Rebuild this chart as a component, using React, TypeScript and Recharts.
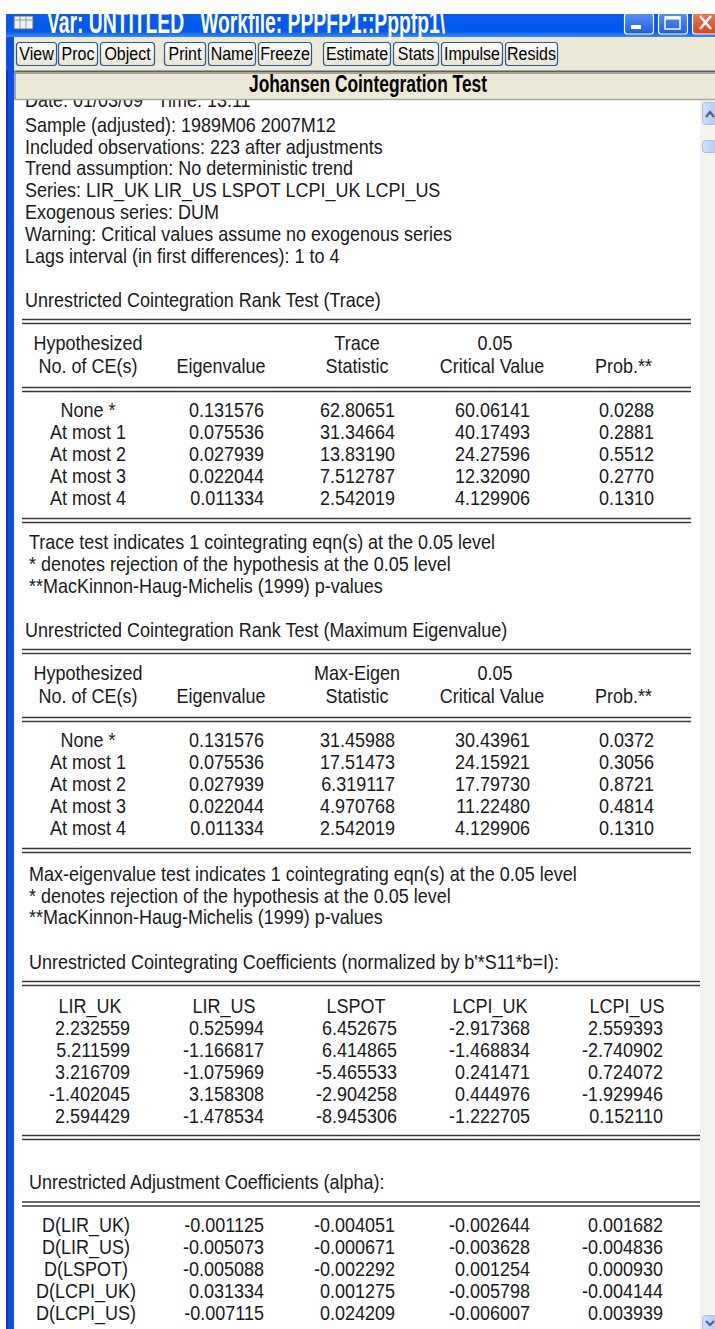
import React from "react";
import { Surface, Layer } from "recharts";

const W = 715;
const H = 1329;
const FONT = "'Liberation Sans', Arial, Helvetica, sans-serif";
const SY = 1.15;

// ---------------- data ----------------
const windowTitle = "Var: UNTITLED   Workfile: PPPFP1::Pppfp1\\";
const toolbarLabels = ["View", "Proc", "Object", "Print", "Name", "Freeze", "Estimate", "Stats", "Impulse", "Resids"];
const panelTitle = "Johansen Cointegration Test";
const infoLines = [
  "Date: 01/03/09   Time: 13:11",
  "Sample (adjusted): 1989M06 2007M12",
  "Included observations: 223 after adjustments",
  "Trend assumption: No deterministic trend",
  "Series: LIR_UK LIR_US LSPOT LCPI_UK LCPI_US",
  "Exogenous series: DUM",
  "Warning: Critical values assume no exogenous series",
  "Lags interval (in first differences): 1 to 4",
];
const traceTitle = "Unrestricted Cointegration Rank Test (Trace)";
const traceHeader1 = ["Hypothesized", "", "Trace", "0.05", ""];
const traceHeader2 = ["No. of CE(s)", "Eigenvalue", "Statistic", "Critical Value", "Prob.**"];
const rankLabels = ["None *", "At most 1", "At most 2", "At most 3", "At most 4"];
const eigenvalues = [0.131576, 0.075536, 0.027939, 0.022044, 0.011334];
const traceStat = [62.80651, 31.34664, 13.8319, 7.512787, 2.542019];
const traceCrit = [60.06141, 40.17493, 24.27596, 12.3209, 4.129906];
const traceProb = [0.0288, 0.2881, 0.5512, 0.277, 0.131];
const traceNotes = [
  "Trace test indicates 1 cointegrating eqn(s) at the 0.05 level",
  "* denotes rejection of the hypothesis at the 0.05 level",
  "**MacKinnon-Haug-Michelis (1999) p-values",
];
const maxTitle = "Unrestricted Cointegration Rank Test (Maximum Eigenvalue)";
const maxHeader1 = ["Hypothesized", "", "Max-Eigen", "0.05", ""];
const maxHeader2 = ["No. of CE(s)", "Eigenvalue", "Statistic", "Critical Value", "Prob.**"];
const maxStat = [31.45988, 17.51473, 6.319117, 4.970768, 2.542019];
const maxCrit = [30.43961, 24.15921, 17.7973, 11.2248, 4.129906];
const maxProb = [0.0372, 0.3056, 0.8721, 0.4814, 0.131];
const maxNotes = [
  "Max-eigenvalue test indicates 1 cointegrating eqn(s) at the 0.05 level",
  "* denotes rejection of the hypothesis at the 0.05 level",
  "**MacKinnon-Haug-Michelis (1999) p-values",
];
const betaTitle = "Unrestricted Cointegrating Coefficients (normalized by b'*S11*b=I):";
const seriesNames = ["LIR_UK", "LIR_US", "LSPOT", "LCPI_UK", "LCPI_US"];
const betaLirUk = [2.232559, 5.211599, 3.216709, -1.402045, 2.594429];
const betaLirUs = [0.525994, -1.166817, -1.075969, 3.158308, -1.478534];
const betaLspot = [6.452675, 6.414865, -5.465533, -2.904258, -8.945306];
const betaLcpiUk = [-2.917368, -1.468834, 0.241471, 0.444976, -1.222705];
const betaLcpiUs = [2.559393, -2.740902, 0.724072, -1.929946, 0.15211];
const alphaTitle = "Unrestricted Adjustment Coefficients (alpha):";
const alphaLabels = ["D(LIR_UK)", "D(LIR_US)", "D(LSPOT)", "D(LCPI_UK)", "D(LCPI_US)"];
const alpha1 = [-0.001125, -0.005073, -0.005088, 0.031334, -0.007115];
const alpha2 = [-0.004051, -0.000671, -0.002292, 0.001275, 0.024209];
const alpha3 = [-0.002644, -0.003628, 0.001254, -0.005798, -0.006007];
const alpha4 = [0.001682, -0.004836, 0.00093, -0.004144, 0.003939];

// ---------------- layout ----------------
const toolbarX: [number, number][] = [
  [16, 57], [58, 98], [100, 155], [164, 206], [208, 256], [258, 312],
  [323, 391], [393, 439], [441, 503], [505, 558],
];
const rankColCenter = 88;
const rankHeadCenters = [88, 221, 357, 492, 0];
const rankValRight = [264, 395, 530, 654];
const betaHeadCenters = [90, 224, 356, 490, 627];
const betaValRight = [130, 264, 397, 530, 663];
const alphaLabelCenter = 86;
const alphaValRight = [264, 395, 530, 663];

const fmt = (v: number) => (Math.abs(v) >= 10 ? v.toFixed(5) : v.toFixed(6));
const fmtP = (v: number) => v.toFixed(4);

type TP = {
  x: number;
  y: number;
  children: React.ReactNode;
  anchor?: "start" | "middle" | "end";
  size?: number;
  weight?: string;
  fill?: string;
  sy?: number;
  len?: number;
};
const T = ({ x, y, children, anchor = "start", size = 18, weight = "normal", fill = "#1a1a1a", sy = SY, len }: TP) => (
  <text
    transform={`translate(${x},${y}) scale(1,${sy})`}
    textAnchor={anchor}
    fontSize={size}
    fontFamily={FONT}
    fontWeight={weight}
    fill={fill}
    xmlSpace="preserve"
    style={{ whiteSpace: "pre" }}
    textLength={len}
    lengthAdjust={len ? "spacingAndGlyphs" : undefined}
  >
    {children}
  </text>
);

const DL = ({ x1, x2, y }: { x1: number; x2: number; y: number }) => (
  <Layer>
    <line x1={x1} x2={x2} y1={y} y2={y} stroke="#3a3a3a" strokeWidth={1.6} />
    <line x1={x1} x2={x2} y1={y + 4} y2={y + 4} stroke="#3a3a3a" strokeWidth={1.6} />
  </Layer>
);

const RankTable = ({
  top, h1, h2, stat, crit, prob, right,
}: {
  top: number; h1: string[]; h2: string[]; stat: number[]; crit: number[]; prob: number[]; right: number;
}) => {
  const rowY = (i: number) => top + 97.5 + i * 21.9;
  return (
    <Layer>
      <DL x1={22} x2={right} y={top} />
      {h1.map((s, i) =>
        s ? (
          <T key={"a" + i} x={i === 3 ? 495 : rankHeadCenters[i]} y={top + 30.5} anchor="middle">
            {s}
          </T>
        ) : null
      )}
      {h2.map((s, i) => (
        <T key={"b" + i} x={i === 4 ? 652 : rankHeadCenters[i]} y={top + 53.5} anchor={i === 4 ? "end" : "middle"}>
          {s}
        </T>
      ))}
      <DL x1={22} x2={right} y={top + 68} />
      {rankLabels.map((s, i) => (
        <Layer key={"r" + i}>
          <T x={rankColCenter} y={rowY(i)} anchor="middle">{s}</T>
          <T x={rankValRight[0]} y={rowY(i)} anchor="end">{fmt(eigenvalues[i])}</T>
          <T x={rankValRight[1]} y={rowY(i)} anchor="end">{fmt(stat[i])}</T>
          <T x={rankValRight[2]} y={rowY(i)} anchor="end">{fmt(crit[i])}</T>
          <T x={rankValRight[3]} y={rowY(i)} anchor="end">{fmtP(prob[i])}</T>
        </Layer>
      ))}
      <DL x1={22} x2={right} y={top + 199} />
    </Layer>
  );
};

export default function App() {
  const betaCols = [betaLirUk, betaLirUs, betaLspot, betaLcpiUk, betaLcpiUs];
  const alphaCols = [alpha1, alpha2, alpha3, alpha4];
  return (
    <div style={{ position: "absolute", left: 0, top: 0, width: W, height: H, background: "#fff" }}>
      <Surface width={W} height={H} viewBox={{ x: 0, y: 0, width: W, height: H }}>
        <defs>
          <linearGradient id="tb" x1="0" y1="0" x2="0" y2="1">
            <stop offset="0" stopColor="#0A5CEE" />
            <stop offset="0.75" stopColor="#0058EE" />
            <stop offset="1" stopColor="#3A8CF8" />
          </linearGradient>
          <linearGradient id="btn" x1="0" y1="0" x2="0" y2="1">
            <stop offset="0" stopColor="#FFFFFF" />
            <stop offset="1" stopColor="#E6E3D6" />
          </linearGradient>
          <linearGradient id="wbtn" x1="0" y1="0" x2="0" y2="1">
            <stop offset="0" stopColor="#5A93F8" />
            <stop offset="1" stopColor="#1F5DE0" />
          </linearGradient>
          <linearGradient id="cbtn" x1="0" y1="0" x2="0" y2="1">
            <stop offset="0" stopColor="#EE7A50" />
            <stop offset="1" stopColor="#D8421E" />
          </linearGradient>
          <linearGradient id="sb" x1="0" y1="0" x2="1" y2="0">
            <stop offset="0" stopColor="#D6E2FD" />
            <stop offset="1" stopColor="#B4C8F6" />
          </linearGradient>
        </defs>

        {/* white content */}
        <rect x={0} y={0} width={W} height={H} fill="#fff" />

        {/* info lines */}
        {infoLines.map((s, i) => (
          <T key={"info" + i} x={25} y={i === 0 ? 107 : 110 + i * 21.8}>{s}</T>
        ))}
        <T x={25} y={307}>{traceTitle}</T>

        <RankTable top={319.5} h1={traceHeader1} h2={traceHeader2} stat={traceStat} crit={traceCrit} prob={traceProb} right={691} />

        {traceNotes.map((s, i) => (
          <T key={"tn" + i} x={29} y={549 + i * 22}>{s}</T>
        ))}
        <T x={25} y={637}>{maxTitle}</T>

        <RankTable top={649.5} h1={maxHeader1} h2={maxHeader2} stat={maxStat} crit={maxCrit} prob={maxProb} right={691} />

        {maxNotes.map((s, i) => (
          <T key={"mn" + i} x={29} y={881 + i * 21.7}>{s}</T>
        ))}
        <T x={29} y={969}>{betaTitle}</T>
        <DL x1={22} x2={700} y={981.5} />
        {seriesNames.map((s, i) => (
          <T key={"bh" + i} x={betaHeadCenters[i]} y={1013} anchor="middle">{s}</T>
        ))}
        {betaLirUk.map((_, r) => (
          <Layer key={"br" + r}>
            {betaCols.map((col, c) => (
              <T key={c} x={betaValRight[c]} y={1034.5 + r * 22} anchor="end">{fmt(col[r])}</T>
            ))}
          </Layer>
        ))}
        <DL x1={22} x2={700} y={1135.5} />

        <T x={29} y={1189}>{alphaTitle}</T>
        <DL x1={22} x2={700} y={1202} />
        {alphaLabels.map((s, r) => (
          <Layer key={"ar" + r}>
            <T x={alphaLabelCenter} y={1232 + r * 22} anchor="middle">{s}</T>
            {alphaCols.map((col, c) => (
              <T key={c} x={alphaValRight[c]} y={1232 + r * 22} anchor="end">{fmt(col[r])}</T>
            ))}
          </Layer>
        ))}

        {/* scrollbar */}
        <rect x={700} y={99} width={15} height={H - 99} fill="#F4F3EE" />
        <rect x={702.5} y={102.5} width={14} height={22} rx={3} fill="url(#sb)" stroke="#A9BDEB" />
        <path d="M706 117 L710 112 L714 117" stroke="#4D6185" strokeWidth={2.2} fill="none" />
        <rect x={702.5} y={140.5} width={14} height={12} rx={3} fill="url(#sb)" stroke="#A9BDEB" />
        <rect x={702.5} y={1315.5} width={14} height={18} rx={3} fill="url(#sb)" stroke="#A9BDEB" />
        <path d="M706 1321 L710 1325 L714 1321" stroke="#4D6185" strokeWidth={2} fill="none" />

        {/* left window frame */}
        <rect x={6} y={14} width={8} height={H - 14} fill="#0B4FE6" />
        <rect x={6} y={14} width={2} height={H - 14} fill="#0838B8" />

        {/* header bar */}
        <rect x={14} y={70} width={W - 14} height={30} fill="#ECE9D8" />
        <line x1={14} x2={W} y1={71.5} y2={71.5} stroke="#5E5E5E" strokeWidth={2} />
        <line x1={14} x2={W} y1={73.5} y2={73.5} stroke="#A7A69D" strokeWidth={1} />
        <line x1={15} x2={15} y1={71} y2={100} stroke="#8E8D86" strokeWidth={1.5} />
        <line x1={14} x2={W} y1={99.5} y2={99.5} stroke="#A8A8A8" strokeWidth={1.5} />
        <T x={368} y={92} anchor="middle" size={20} weight="bold" fill="#000" len={238}>{panelTitle}</T>

        {/* toolbar */}
        <rect x={6} y={36} width={W - 6} height={34} fill="#ECE9D8" />
        <rect x={6} y={36} width={8} height={34} fill="#0B4FE6" />
        {toolbarLabels.map((s, i) => {
          const [a, b] = toolbarX[i];
          return (
            <Layer key={"tb" + i}>
              <rect x={a + 0.5} y={42.5} width={b - a - 1} height={23} rx={3} fill="url(#btn)" stroke="#2A5A8C" strokeWidth={1.2} />
              <T x={(a + b) / 2} y={60} anchor="middle" size={16} sy={1.18} fill="#000">{s}</T>
            </Layer>
          );
        })}

        {/* title bar */}
        <rect x={6} y={14} width={W - 6} height={23} fill="url(#tb)" />
        <rect x={14} y={16} width={19} height={13} fill="#F2F2F2" stroke="#6A6A6A" />
        <line x1={14} x2={33} y1={20} y2={20} stroke="#9A9A9A" />
        <line x1={20} x2={20} y1={16} y2={29} stroke="#9A9A9A" />
        <line x1={26} x2={26} y1={16} y2={29} stroke="#9A9A9A" />
        <T x={47} y={33} size={22} weight="bold" fill="#FFFFFF" sy={1.45} len={398}>{windowTitle}</T>
        <rect x={624.5} y={13} width={29} height={21} rx={3} fill="url(#wbtn)" stroke="#FFFFFF" strokeWidth={1.2} />
        <rect x={631} y={25} width={10} height={4} fill="#FFFFFF" />
        <rect x={658.5} y={13} width={29} height={21} rx={3} fill="url(#wbtn)" stroke="#FFFFFF" strokeWidth={1.2} />
        <rect x={665} y={17} width={15} height={12} fill="none" stroke="#FFFFFF" strokeWidth={1.5} />
        <line x1={665} x2={680} y1={18} y2={18} stroke="#FFFFFF" strokeWidth={3} />
        <rect x={692.5} y={13} width={30} height={21} rx={3} fill="url(#cbtn)" stroke="#FFFFFF" strokeWidth={1.2} />
        <path d="M700 16 L711 29 M711 16 L700 29" stroke="#FFFFFF" strokeWidth={2.6} />

        {/* top white band (clips title bar) */}
        <rect x={0} y={0} width={W} height={14} fill="#FFFFFF" />
      </Surface>
    </div>
  );
}
